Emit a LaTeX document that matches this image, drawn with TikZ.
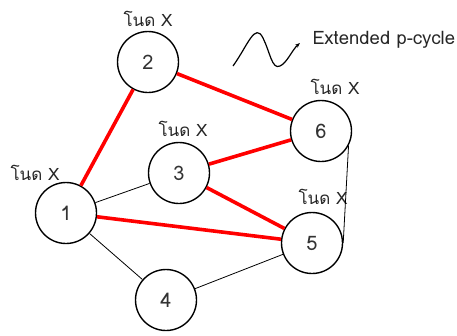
\documentclass[tikz,border=0pt]{standalone}
\usepackage{fontspec}
\setmainfont{Loma}[Script=Thai]
\newfontfamily\thaifont[Script=Thai]{Loma}
\usetikzlibrary{arrows.meta, positioning}

\begin{document}
\begin{tikzpicture}[x=1pt, y=-1pt,
  vnode/.style={circle, draw=black, line width=1.4pt, minimum size=61pt,
              inner sep=0pt, font=\fontsize{20}{20}\selectfont, text=black!80},
  xlabel/.style={font=\thaifont\fontsize{17}{17}\selectfont, text=black!85},
  pcyc/.style={red, line width=3.6pt},
  plain/.style={black, line width=0.8pt}
]
\useasboundingbox (0,0) rectangle (457,335);

% nodes
\node[vnode] (n2) at (148, 62)  {2};
\node[vnode] (n6) at (321, 131) {6};
\node[vnode] (n3) at (179, 173) {3};
\node[vnode] (n1) at (66, 213)  {1};
\node[vnode] (n5) at (312, 243) {5};
\node[vnode] (n4) at (166, 300) {4};

% labels
\node[xlabel] (l2) at (148, 19)  {โนด X};
\node[xlabel] (l6) at (335, 87)  {โนด X};
\node[xlabel] (l3) at (183, 129) {โนด X};
\node[xlabel] (l1) at (35, 173)  {โนด X};
\node[xlabel] (l5) at (323, 197) {โนด X};

% thin links
\draw[plain] (n1) -- (n3);
\draw[plain] (n1) -- (n4);
\draw[plain] (n4) -- (n5);
\draw[plain] (n6.-28) -- (n5.east);

% p-cycle links
\draw[pcyc] (n1) -- (n2);
\draw[pcyc] (n2) -- (n6);
\draw[pcyc] (n3) -- (n6);
\draw[pcyc] (n3) -- (n5);
\draw[pcyc] (n1) -- (n5);

% legend
\coordinate (w0) at (233, 66);
\coordinate (w1) at (300, 43);
\draw[line width=1.2pt, -{Stealth[length=5pt]}] (w0)
  .. controls (248, 45) and (255, 22) .. (263, 38)
  .. controls (270, 52) and (272, 70) .. (280, 66)
  .. controls (287, 63) and (292, 50) .. (w1);
\node[font=\fontsize{18.5}{18.5}\selectfont, text=black!85, anchor=west] (leg) at (309, 40) {Extended p-cycle};
\end{tikzpicture}
\end{document}
